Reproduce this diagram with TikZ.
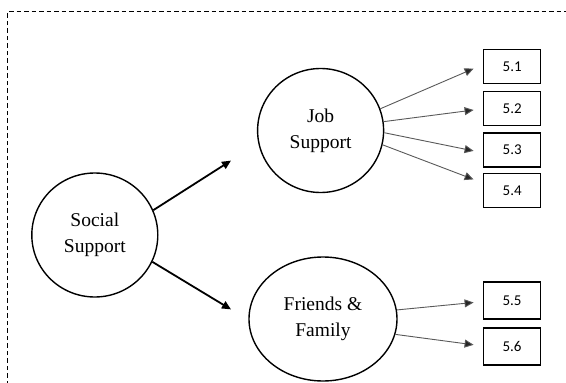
\documentclass[tikz,border=0pt]{standalone}
\usepackage{fontspec}
\setmainfont{Liberation Serif}
\newfontfamily\boxfont{Carlito}
\usetikzlibrary{shapes.geometric,arrows.meta}
\begin{document}
\begin{tikzpicture}[x=1pt,y=-1pt,
  latent/.style={ellipse, draw, line width=1.4pt, minimum height=124pt, inner sep=0pt, align=center, font=\fontsize{19.5}{26}\selectfont},
  ind/.style={rectangle, draw, line width=1.4pt, minimum width=57pt, minimum height=34pt, inner sep=0pt, font=\boxfont\fontsize{15}{17}\selectfont},
  mainarrow/.style={line width=1.8pt, -{Triangle[length=9pt,width=8pt]}},
  thinarrow/.style={line width=0.9pt, draw=black!65, -{Triangle[length=9pt,width=8pt,fill=black!85]}},
  frame/.style={dash pattern=on 4.5pt off 3pt, line width=1pt}
]
\useasboundingbox (0,0) rectangle (566,383);
\draw[frame] (7.5,400) -- (7.5,11.5) -- (590,11.5);

\node[latent, minimum width=126pt] (ss) at (94.8,235) {Social\\Support};
\node[latent, minimum width=126pt] (js) at (320.6,130.5) {Job\\Support};
\node[latent, minimum width=148pt] (ff) at (323,319) {Friends \&\\Family};

\node[ind] (b1) at (512.2,66.6) {5.1};
\node[ind] (b2) at (512.2,108.5) {5.2};
\node[ind] (b3) at (512.2,150) {5.3};
\node[ind] (b4) at (512.2,190.5) {5.4};
\node[ind, minimum height=37pt] (b5) at (512,300.5) {5.5};
\node[ind, minimum height=37pt] (b6) at (512,346.3) {5.6};

\coordinate (tj) at (231,160.6);
\coordinate (tf) at (231,309.4);
\coordinate (t1) at (473.6,68.6);
\coordinate (t2) at (473.6,110);
\coordinate (t3) at (473.6,150.9);
\coordinate (t4) at (473.6,179.4);
\coordinate (t5) at (473.6,302.5);
\coordinate (t6) at (473.6,344.8);

\draw[mainarrow] (ss.23.6) -- (tj);
\draw[mainarrow] (ss.-25.9) -- (tf);

\draw[thinarrow] (js.20.2) -- (t1);
\draw[thinarrow] (js.8.5) -- (t2);
\draw[thinarrow] (js.-2) -- (t3);
\draw[thinarrow] (js.-13.8) -- (t4);
\draw[thinarrow] (ff.7.2) -- (t5);
\draw[thinarrow] (ff.-12.4) -- (t6);
\end{tikzpicture}
\end{document}
